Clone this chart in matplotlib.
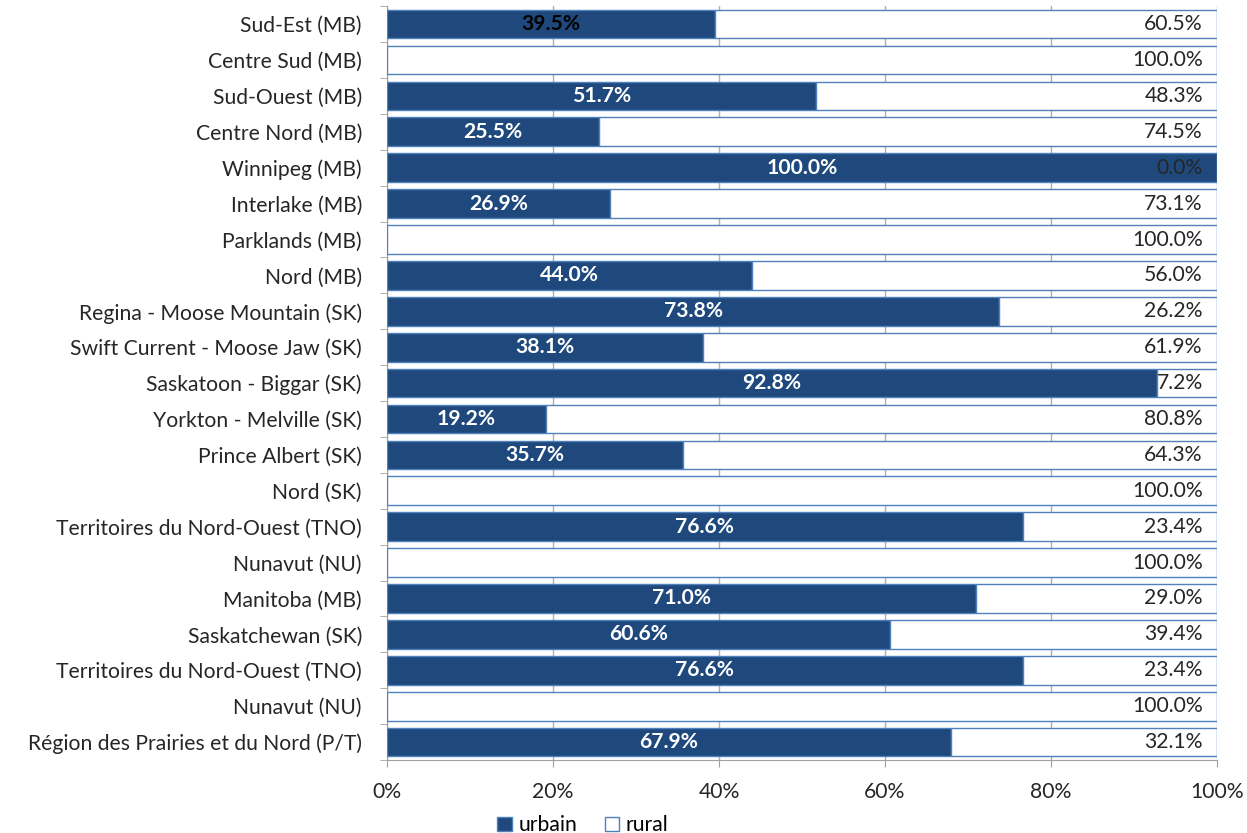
import matplotlib.pyplot as plt
import numpy as np

plt.rcParams['font.family'] = ['Lato', 'DejaVu Sans']

# ---------- data ----------
regions = [
    "Sud-Est (MB)", "Centre Sud (MB)", "Sud-Ouest (MB)", "Centre Nord (MB)",
    "Winnipeg (MB)", "Interlake (MB)", "Parklands (MB)", "Nord (MB)",
    "Regina - Moose Mountain (SK)", "Swift Current - Moose Jaw (SK)",
    "Saskatoon - Biggar (SK)", "Yorkton - Melville (SK)", "Prince Albert (SK)",
    "Nord (SK)", "Territoires du Nord-Ouest (TNO)", "Nunavut (NU)",
    "Manitoba (MB)", "Saskatchewan (SK)", "Territoires du Nord-Ouest (TNO)",
    "Nunavut (NU)", "Région des Prairies et du Nord (P/T)",
]
urbain = [39.5, 0.0, 51.7, 25.5, 100.0, 26.9, 0.0, 44.0, 73.8, 38.1,
          92.8, 19.2, 35.7, 0.0, 76.6, 0.0, 71.0, 60.6, 76.6, 0.0, 67.9]
rural = [60.5, 100.0, 48.3, 74.5, 0.0, 73.1, 100.0, 56.0, 26.2, 61.9,
         7.2, 80.8, 64.3, 100.0, 23.4, 100.0, 29.0, 39.4, 23.4, 100.0, 32.1]

dark = "#1F497D"
edge = "#4F81BD"
fs = 15.2

fig = plt.figure(figsize=(12.47, 8.33), dpi=100)
ax = fig.add_axes([0.3103, 0.0876, 0.6656, 0.905])

y = np.arange(len(regions))
ax.barh(y, urbain, height=0.8, color=dark, edgecolor=edge, linewidth=1, label="urbain", zorder=3)
ax.barh(y, rural, left=urbain, height=0.8, color="white", edgecolor=edge, linewidth=1,
        label="rural", zorder=3)

for i, (u, r) in enumerate(zip(urbain, rural)):
    if u > 0:
        c = "black" if i == 0 else "white"
        ax.text(u / 2, i, f"{u:.1f}%", ha="center", va="center", color=c,
                fontsize=fs, fontweight="bold", zorder=4)
    ax.text(98.3, i, f"{r:.1f}%", ha="right", va="center", color="#262626",
            fontsize=fs, zorder=4)

ax.set_xlim(0, 100)
ax.set_ylim(len(regions) - 0.5, -0.5)
ax.set_yticks(y)
ax.set_yticklabels(regions, fontsize=fs, color="#262626")
ax.set_yticks(np.arange(len(regions) + 1) - 0.5, minor=True)
ax.tick_params(axis="y", which="major", length=0, pad=18)
ax.tick_params(axis="y", which="minor", length=5, color="#a0a0a0")
ax.set_xticks(np.arange(0, 101, 20))
ax.set_xticklabels([f"{v}%" for v in range(0, 101, 20)], fontsize=fs, color="#262626")
ax.tick_params(axis="x", length=5, color="#a0a0a0", pad=11)
ax.grid(axis="x", color="#b0b0b0", linewidth=1, zorder=0)
for s in ["top", "right"]:
    ax.spines[s].set_visible(False)
ax.spines["left"].set_color("#a0a0a0")
ax.spines["bottom"].set_color("#a0a0a0")

ax.legend(loc="lower center", bbox_to_anchor=(0.236, -0.1), ncol=2, frameon=False,
          fontsize=fs, handlelength=0.7, handleheight=0.7, handletextpad=0.3,
          columnspacing=1.3, borderaxespad=0, borderpad=0)

fig.savefig("out.png", dpi=100)
